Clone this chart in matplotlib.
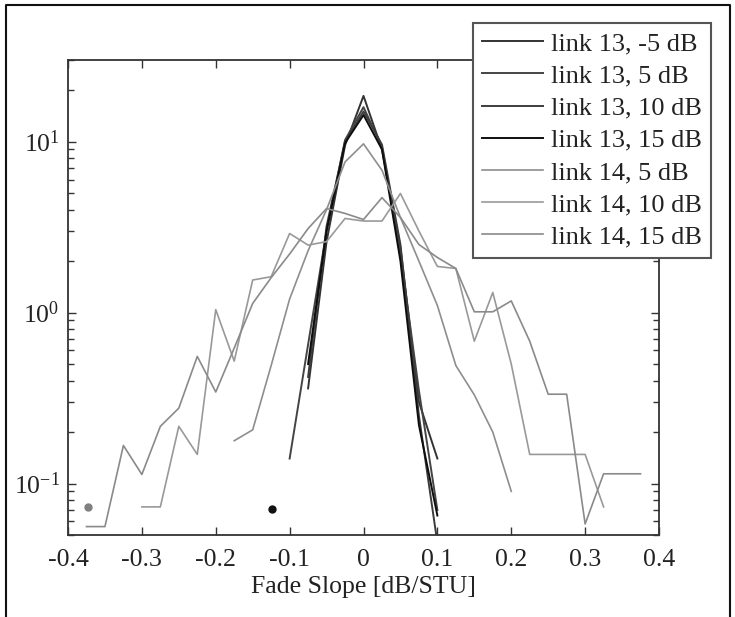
import numpy as np
import matplotlib
matplotlib.use("Agg")
import matplotlib.pyplot as plt
from matplotlib.lines import Line2D
from matplotlib.ticker import LogLocator, NullFormatter

plt.rcParams['font.family'] = ['Liberation Serif', 'DejaVu Serif']
plt.rcParams['mathtext.fontset'] = 'custom'
plt.rcParams['mathtext.rm'] = 'Liberation Serif'
plt.rcParams['axes.unicode_minus'] = False

# fade slope bins [dB/STU]
slope = [-0.375, -0.35, -0.325, -0.3, -0.275, -0.25, -0.225, -0.2, -0.175, -0.15,
         -0.125, -0.1, -0.075, -0.05, -0.025, 0.0, 0.025, 0.05, 0.075, 0.1,
         0.125, 0.15, 0.175, 0.2, 0.225, 0.25, 0.275, 0.3, 0.325, 0.35, 0.375]
n = np.nan

# link 13 (pdf values, nan = no data)
l13_m5 = [n, n, n, n, n, n, n, n, n, n,
          n, n, 0.36, 2.6, 9.5, 18.5, 9.0, 2.4, 0.3, 0.14,
          n, n, n, n, n, n, n, n, n, n, n]
l13_5 = [n, n, n, n, n, n, n, n, n, n,
         n, 0.14, 0.65, 3.0, 10.2, 15.9, 9.3, 2.2, 0.35, 0.07,
         n, n, n, n, n, n, n, n, n, n, n]
l13_10 = [n, n, n, n, n, n, n, n, n, n,
          n, n, 0.42, 3.2, 10.0, 15.0, 9.6, 2.5, 0.25, 0.045,
          n, n, n, n, n, n, n, n, n, n, n]
l13_15 = [n, n, n, n, n, n, n, n, n, n,
          n, n, 0.5, 3.0, 9.8, 14.3, 9.0, 2.0, 0.22, 0.065,
          n, n, n, n, n, n, n, n, n, n, n]

# link 14
l14_5 = [n, n, n, n, n, n, n, n, 0.178, 0.206,
         0.49, 1.2, 2.3, 4.0, 7.6, 9.7, 6.8, 3.6, 2.0, 1.1,
         0.49, 0.33, 0.2, 0.09, n, n, n, n, n, n, n]
l14_10 = [n, n, n, 0.073, 0.073, 0.216, 0.148, 1.04, 0.52, 1.55,
          1.62, 2.9, 2.48, 2.6, 3.55, 3.43, 3.43, 4.97, 3.0, 1.86,
          1.81, 0.68, 1.31, 0.5, 0.148, 0.148, 0.148, 0.148, 0.073, n, n]
l14_15 = [0.056, 0.056, 0.167, 0.113, 0.216, 0.276, 0.554, 0.343, 0.62, 1.13,
          1.6, 2.2, 3.1, 4.06, 3.8, 3.5, 4.7, 3.6, 2.5, 2.1,
          1.81, 1.01, 1.01, 1.17, 0.68, 0.333, 0.333, 0.058, 0.114, 0.114, 0.114]

# isolated single points
dot_gray = (-0.373, 0.073)
dot_black = (-0.124, 0.0705)

labels = ['link 13, -5 dB', 'link 13, 5 dB', 'link 13, 10 dB', 'link 13, 15 dB',
          'link 14, 5 dB', 'link 14, 10 dB', 'link 14, 15 dB']
colors = ['#333333', '#444444', '#3c3c3c', '#0e0e0e', '#8e8e8e', '#999999', '#8a8a8a']
widths = [1.4, 1.4, 1.4, 1.4, 1.2, 1.2, 1.2]
series = [l13_m5, l13_5, l13_10, l13_15, l14_5, l14_10, l14_15]

xticks = [-0.4, -0.3, -0.2, -0.1, 0, 0.1, 0.2, 0.3, 0.4]
xticklabels = ['-0.4', '-0.3', '-0.2', '-0.1', '0', '0.1', '0.2', '0.3', '0.4']

fig = plt.figure(figsize=(7.35, 6.17), dpi=100)
ax = fig.add_axes([68/735, 1 - 535/617, 591/735, 475/617])

for ys, c, w, lab in zip(series, colors, widths, labels):
    ax.plot(slope, ys, color=c, lw=w, label=lab)

ax.plot(*dot_gray, 'o', color='#808080', ms=5)
ax.plot(*dot_black, 'o', color='#111111', ms=5)

ax.set_yscale('log')
ax.set_xlim(-0.4, 0.4)
ax.set_ylim(0.05, 30)
ax.set_xticks(xticks)
ax.set_xticklabels(xticklabels)
ax.yaxis.set_major_locator(LogLocator(base=10, numticks=10))
ax.yaxis.set_minor_locator(LogLocator(base=10, subs=np.arange(2, 10), numticks=20))
ax.yaxis.set_minor_formatter(NullFormatter())
ax.tick_params(which='both', direction='in', top=True, right=True, colors='#333333',
               labelcolor='#222222', labelsize=18.5)
ax.tick_params(axis='x', pad=10)
ax.tick_params(axis='y', pad=6)
ax.tick_params(which='major', length=6, width=1)
ax.tick_params(which='minor', length=4, width=1)
for s in ax.spines.values():
    s.set_color('#333333')
    s.set_linewidth(1.3)

ax.set_xlabel('Fade Slope [dB/STU]', fontsize=18.5, color='#222222', labelpad=4)

leg = ax.legend(loc='upper left', bbox_to_anchor=(473/735, 1 - 22.7/617),
                bbox_transform=fig.transFigure, borderaxespad=0, fontsize=19,
                handlelength=2.3, handletextpad=0.3, labelspacing=0.33,
                borderpad=0.35, fancybox=False, framealpha=1)
leg.get_frame().set_edgecolor('#555555')
leg.get_frame().set_linewidth(1.5)
for t in leg.get_texts():
    t.set_color('#222222')

# picture frame around the figure
fr = Line2D([6/735, 6/735, 730/735, 730/735], [0, 1 - 5/617, 1 - 5/617, 0],
            transform=fig.transFigure, color='#111111', lw=1.5)
fig.add_artist(fr)

fig.savefig('out.png', dpi=100)
